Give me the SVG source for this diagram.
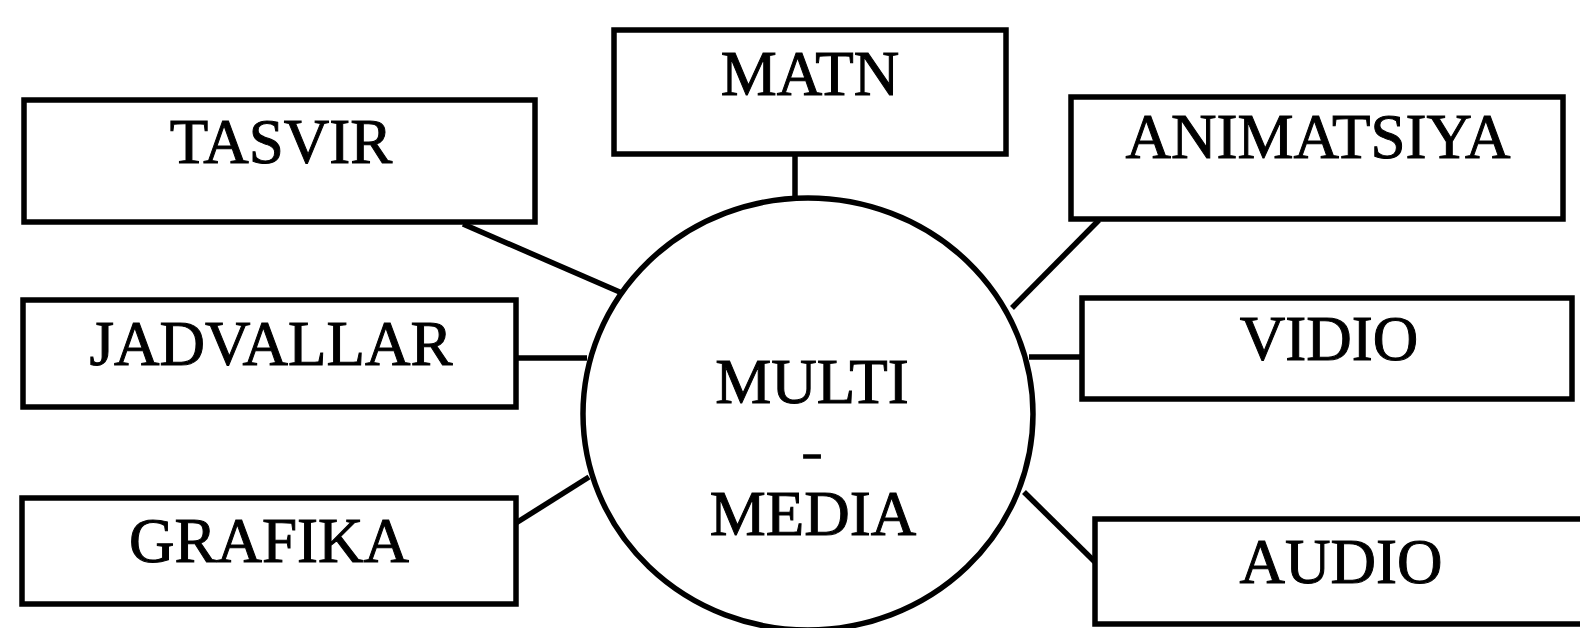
<svg xmlns="http://www.w3.org/2000/svg" width="1580" height="628" viewBox="0 0 1580 628">
<style>
rect.box{fill:#fff;stroke:#000;stroke-width:5.5}
.hub{fill:#fff;stroke:#000;stroke-width:5.5}
text{font-family:"Liberation Serif","Times New Roman",serif;font-size:63px;fill:#000;stroke:#000;stroke-width:1;text-anchor:middle}
text.dash{font-size:40px;stroke-width:1.5}
#connectors line{stroke:#000;stroke-width:5.5}
</style>
<rect width="1580" height="628" fill="#fff"/>
<g id="connectors">
<line x1="463" y1="224" x2="622" y2="293"/>
<line x1="795" y1="155" x2="795" y2="199"/>
<line x1="1099" y1="220" x2="1012" y2="308"/>
<line x1="516" y1="358" x2="587" y2="358"/>
<line x1="1029" y1="357" x2="1082" y2="357"/>
<line x1="516" y1="523" x2="589" y2="477"/>
<line x1="1024" y1="492" x2="1096" y2="563"/>
</g>
<g id="hub">
<ellipse class="hub" cx="808" cy="414" rx="225" ry="216"/>
<text x="812" y="403">MULTI</text>
<text class="dash" x="812" y="466" textLength="20" lengthAdjust="spacingAndGlyphs">-</text>
<text x="813" y="535">MEDIA</text>
</g>
<g id="tasvir">
<rect class="box" x="24" y="100" width="511" height="122"/>
<text x="281" y="163">TASVIR</text>
</g>
<g id="matn">
<rect class="box" x="614" y="30" width="392" height="124"/>
<text x="810" y="95">MATN</text>
</g>
<g id="animatsiya">
<rect class="box" x="1071" y="97" width="492" height="122"/>
<text x="1318" y="158">ANIMATSIYA</text>
</g>
<g id="jadvallar">
<rect class="box" x="23" y="300" width="493" height="107"/>
<text x="271" y="365">JADVALLAR</text>
</g>
<g id="vidio">
<rect class="box" x="1082" y="298" width="490" height="101"/>
<text x="1329" y="360">VIDIO</text>
</g>
<g id="grafika">
<rect class="box" x="22" y="498" width="494" height="106"/>
<text x="269" y="562">GRAFIKA</text>
</g>
<g id="audio">
<rect class="box" x="1095" y="519" width="500" height="105"/>
<text x="1341" y="583">AUDIO</text>
</g>
</svg>
